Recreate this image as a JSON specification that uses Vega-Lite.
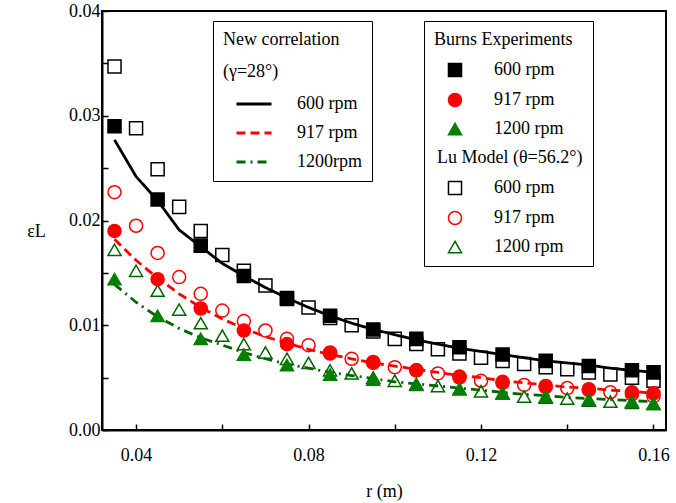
{
  "$schema": "https://vega.github.io/schema/vega-lite/v6.json",
  "width": 564,
  "height": 419,
  "autosize": {"type": "none"},
  "padding": {"left": 102, "top": 11, "right": 10, "bottom": 73},
  "background": "white",
  "config": {
    "font": "Liberation Serif",
    "view": {"stroke": "black", "strokeWidth": 2},
    "axis": {
      "domainColor": "black", "domainWidth": 2, "tickColor": "black", "tickWidth": 1.5,
      "labelColor": "black", "labelFontSize": 18, "labelFont": "Liberation Serif",
      "titleFont": "Liberation Serif", "titleFontSize": 18, "titleColor": "black",
      "titleFontWeight": "normal", "grid": false
    },
    "legend": {
      "titleFont": "Liberation Serif", "labelFont": "Liberation Serif",
      "titleFontSize": 18, "labelFontSize": 18, "titleFontWeight": "normal",
      "titleColor": "black", "labelColor": "black", "strokeColor": "black",
      "labelLimit": 300, "titleLimit": 300
    }
  },
  "datasets": {
    "corr": [
      {"r": 0.035, "e": 0.0277, "corr": "600 rpm"}, {"r": 0.04, "e": 0.0242, "corr": "600 rpm"},
      {"r": 0.045, "e": 0.0219, "corr": "600 rpm"}, {"r": 0.05, "e": 0.0191, "corr": "600 rpm"},
      {"r": 0.055, "e": 0.0175, "corr": "600 rpm"}, {"r": 0.06, "e": 0.0159, "corr": "600 rpm"},
      {"r": 0.065, "e": 0.0147, "corr": "600 rpm"}, {"r": 0.07, "e": 0.0136, "corr": "600 rpm"},
      {"r": 0.075, "e": 0.0126, "corr": "600 rpm"}, {"r": 0.08, "e": 0.0117, "corr": "600 rpm"},
      {"r": 0.085, "e": 0.0109, "corr": "600 rpm"}, {"r": 0.09, "e": 0.0102, "corr": "600 rpm"},
      {"r": 0.095, "e": 0.0096, "corr": "600 rpm"}, {"r": 0.1, "e": 0.0091, "corr": "600 rpm"},
      {"r": 0.105, "e": 0.0086, "corr": "600 rpm"}, {"r": 0.11, "e": 0.0082, "corr": "600 rpm"},
      {"r": 0.115, "e": 0.0078, "corr": "600 rpm"}, {"r": 0.12, "e": 0.0075, "corr": "600 rpm"},
      {"r": 0.125, "e": 0.0072, "corr": "600 rpm"}, {"r": 0.13, "e": 0.0069, "corr": "600 rpm"},
      {"r": 0.135, "e": 0.0066, "corr": "600 rpm"}, {"r": 0.14, "e": 0.0064, "corr": "600 rpm"},
      {"r": 0.145, "e": 0.0062, "corr": "600 rpm"}, {"r": 0.15, "e": 0.0059, "corr": "600 rpm"},
      {"r": 0.155, "e": 0.0057, "corr": "600 rpm"}, {"r": 0.16, "e": 0.0055, "corr": "600 rpm"},
      {"r": 0.035, "e": 0.0182, "corr": "917 rpm"}, {"r": 0.04, "e": 0.0162, "corr": "917 rpm"},
      {"r": 0.045, "e": 0.0145, "corr": "917 rpm"}, {"r": 0.05, "e": 0.013, "corr": "917 rpm"},
      {"r": 0.055, "e": 0.0117, "corr": "917 rpm"}, {"r": 0.06, "e": 0.0106, "corr": "917 rpm"},
      {"r": 0.065, "e": 0.0097, "corr": "917 rpm"}, {"r": 0.07, "e": 0.0089, "corr": "917 rpm"},
      {"r": 0.075, "e": 0.0083, "corr": "917 rpm"}, {"r": 0.08, "e": 0.0077, "corr": "917 rpm"},
      {"r": 0.085, "e": 0.0072, "corr": "917 rpm"}, {"r": 0.09, "e": 0.0068, "corr": "917 rpm"},
      {"r": 0.095, "e": 0.0064, "corr": "917 rpm"}, {"r": 0.1, "e": 0.0061, "corr": "917 rpm"},
      {"r": 0.105, "e": 0.0058, "corr": "917 rpm"}, {"r": 0.11, "e": 0.0055, "corr": "917 rpm"},
      {"r": 0.115, "e": 0.0052, "corr": "917 rpm"}, {"r": 0.12, "e": 0.005, "corr": "917 rpm"},
      {"r": 0.125, "e": 0.0047, "corr": "917 rpm"}, {"r": 0.13, "e": 0.0045, "corr": "917 rpm"},
      {"r": 0.135, "e": 0.0043, "corr": "917 rpm"}, {"r": 0.14, "e": 0.0041, "corr": "917 rpm"},
      {"r": 0.145, "e": 0.004, "corr": "917 rpm"}, {"r": 0.15, "e": 0.0038, "corr": "917 rpm"},
      {"r": 0.155, "e": 0.0037, "corr": "917 rpm"}, {"r": 0.16, "e": 0.0035, "corr": "917 rpm"},
      {"r": 0.035, "e": 0.0139, "corr": "1200rpm"}, {"r": 0.04, "e": 0.0122, "corr": "1200rpm"},
      {"r": 0.045, "e": 0.0108, "corr": "1200rpm"}, {"r": 0.05, "e": 0.0097, "corr": "1200rpm"},
      {"r": 0.055, "e": 0.0088, "corr": "1200rpm"}, {"r": 0.06, "e": 0.0081, "corr": "1200rpm"},
      {"r": 0.065, "e": 0.0074, "corr": "1200rpm"}, {"r": 0.07, "e": 0.0068, "corr": "1200rpm"},
      {"r": 0.075, "e": 0.0063, "corr": "1200rpm"}, {"r": 0.08, "e": 0.0059, "corr": "1200rpm"},
      {"r": 0.085, "e": 0.0055, "corr": "1200rpm"}, {"r": 0.09, "e": 0.0052, "corr": "1200rpm"},
      {"r": 0.095, "e": 0.0049, "corr": "1200rpm"}, {"r": 0.1, "e": 0.0046, "corr": "1200rpm"},
      {"r": 0.105, "e": 0.0044, "corr": "1200rpm"}, {"r": 0.11, "e": 0.0042, "corr": "1200rpm"},
      {"r": 0.115, "e": 0.004, "corr": "1200rpm"}, {"r": 0.12, "e": 0.0038, "corr": "1200rpm"},
      {"r": 0.125, "e": 0.0036, "corr": "1200rpm"}, {"r": 0.13, "e": 0.0034, "corr": "1200rpm"},
      {"r": 0.135, "e": 0.0033, "corr": "1200rpm"}, {"r": 0.14, "e": 0.0031, "corr": "1200rpm"},
      {"r": 0.145, "e": 0.003, "corr": "1200rpm"}, {"r": 0.15, "e": 0.0029, "corr": "1200rpm"},
      {"r": 0.155, "e": 0.0028, "corr": "1200rpm"}, {"r": 0.16, "e": 0.0027, "corr": "1200rpm"}
    ],
    "pts": [
      {"r": 0.035, "e": 0.0347, "series": "L600"}, {"r": 0.04, "e": 0.0288, "series": "L600"},
      {"r": 0.045, "e": 0.0249, "series": "L600"}, {"r": 0.05, "e": 0.0213, "series": "L600"},
      {"r": 0.055, "e": 0.019, "series": "L600"}, {"r": 0.06, "e": 0.0167, "series": "L600"},
      {"r": 0.065, "e": 0.0152, "series": "L600"}, {"r": 0.07, "e": 0.0138, "series": "L600"},
      {"r": 0.075, "e": 0.0126, "series": "L600"}, {"r": 0.08, "e": 0.0117, "series": "L600"},
      {"r": 0.085, "e": 0.0107, "series": "L600"}, {"r": 0.09, "e": 0.01, "series": "L600"},
      {"r": 0.095, "e": 0.0094, "series": "L600"}, {"r": 0.1, "e": 0.0087, "series": "L600"},
      {"r": 0.105, "e": 0.0082, "series": "L600"}, {"r": 0.11, "e": 0.0077, "series": "L600"},
      {"r": 0.115, "e": 0.0073, "series": "L600"}, {"r": 0.12, "e": 0.0069, "series": "L600"},
      {"r": 0.125, "e": 0.0066, "series": "L600"}, {"r": 0.13, "e": 0.0063, "series": "L600"},
      {"r": 0.135, "e": 0.006, "series": "L600"}, {"r": 0.14, "e": 0.0058, "series": "L600"},
      {"r": 0.145, "e": 0.0055, "series": "L600"}, {"r": 0.15, "e": 0.0053, "series": "L600"},
      {"r": 0.155, "e": 0.005, "series": "L600"}, {"r": 0.16, "e": 0.0047, "series": "L600"},
      {"r": 0.035, "e": 0.0227, "series": "L917"}, {"r": 0.04, "e": 0.0195, "series": "L917"},
      {"r": 0.045, "e": 0.0169, "series": "L917"}, {"r": 0.05, "e": 0.0146, "series": "L917"},
      {"r": 0.055, "e": 0.013, "series": "L917"}, {"r": 0.06, "e": 0.0114, "series": "L917"},
      {"r": 0.065, "e": 0.0104, "series": "L917"}, {"r": 0.07, "e": 0.0095, "series": "L917"},
      {"r": 0.075, "e": 0.0087, "series": "L917"}, {"r": 0.08, "e": 0.0081, "series": "L917"},
      {"r": 0.085, "e": 0.0074, "series": "L917"}, {"r": 0.09, "e": 0.0068, "series": "L917"},
      {"r": 0.095, "e": 0.0064, "series": "L917"}, {"r": 0.1, "e": 0.006, "series": "L917"},
      {"r": 0.105, "e": 0.0057, "series": "L917"}, {"r": 0.11, "e": 0.0054, "series": "L917"},
      {"r": 0.115, "e": 0.005, "series": "L917"}, {"r": 0.12, "e": 0.0047, "series": "L917"},
      {"r": 0.125, "e": 0.0045, "series": "L917"}, {"r": 0.13, "e": 0.0043, "series": "L917"},
      {"r": 0.135, "e": 0.0041, "series": "L917"}, {"r": 0.14, "e": 0.004, "series": "L917"},
      {"r": 0.145, "e": 0.0038, "series": "L917"}, {"r": 0.15, "e": 0.0036, "series": "L917"},
      {"r": 0.155, "e": 0.0034, "series": "L917"}, {"r": 0.16, "e": 0.0032, "series": "L917"},
      {"r": 0.035, "e": 0.0172, "series": "L1200"}, {"r": 0.04, "e": 0.0152, "series": "L1200"},
      {"r": 0.045, "e": 0.0133, "series": "L1200"}, {"r": 0.05, "e": 0.0115, "series": "L1200"},
      {"r": 0.055, "e": 0.0102, "series": "L1200"}, {"r": 0.06, "e": 0.009, "series": "L1200"},
      {"r": 0.065, "e": 0.0082, "series": "L1200"}, {"r": 0.07, "e": 0.0074, "series": "L1200"},
      {"r": 0.075, "e": 0.0068, "series": "L1200"}, {"r": 0.08, "e": 0.0064, "series": "L1200"},
      {"r": 0.085, "e": 0.0057, "series": "L1200"}, {"r": 0.09, "e": 0.0054, "series": "L1200"},
      {"r": 0.095, "e": 0.005, "series": "L1200"}, {"r": 0.1, "e": 0.0047, "series": "L1200"},
      {"r": 0.105, "e": 0.0044, "series": "L1200"}, {"r": 0.11, "e": 0.0042, "series": "L1200"},
      {"r": 0.115, "e": 0.0039, "series": "L1200"}, {"r": 0.12, "e": 0.0037, "series": "L1200"},
      {"r": 0.125, "e": 0.0035, "series": "L1200"}, {"r": 0.13, "e": 0.0032, "series": "L1200"},
      {"r": 0.135, "e": 0.0031, "series": "L1200"}, {"r": 0.14, "e": 0.003, "series": "L1200"},
      {"r": 0.145, "e": 0.0028, "series": "L1200"}, {"r": 0.15, "e": 0.0027, "series": "L1200"},
      {"r": 0.155, "e": 0.0026, "series": "L1200"}, {"r": 0.16, "e": 0.0025, "series": "L1200"},
      {"r": 0.035, "e": 0.029, "series": "B600"}, {"r": 0.045, "e": 0.022, "series": "B600"},
      {"r": 0.055, "e": 0.0176, "series": "B600"}, {"r": 0.065, "e": 0.0147, "series": "B600"},
      {"r": 0.075, "e": 0.0125, "series": "B600"}, {"r": 0.085, "e": 0.0109, "series": "B600"},
      {"r": 0.095, "e": 0.0096, "series": "B600"}, {"r": 0.105, "e": 0.0087, "series": "B600"},
      {"r": 0.115, "e": 0.0079, "series": "B600"}, {"r": 0.125, "e": 0.0072, "series": "B600"},
      {"r": 0.135, "e": 0.0066, "series": "B600"}, {"r": 0.145, "e": 0.0061, "series": "B600"},
      {"r": 0.155, "e": 0.0057, "series": "B600"}, {"r": 0.16, "e": 0.0055, "series": "B600"},
      {"r": 0.035, "e": 0.019, "series": "B917"}, {"r": 0.045, "e": 0.0144, "series": "B917"},
      {"r": 0.055, "e": 0.0116, "series": "B917"}, {"r": 0.065, "e": 0.0095, "series": "B917"},
      {"r": 0.075, "e": 0.0082, "series": "B917"}, {"r": 0.085, "e": 0.0073, "series": "B917"},
      {"r": 0.095, "e": 0.0065, "series": "B917"}, {"r": 0.105, "e": 0.0057, "series": "B917"},
      {"r": 0.115, "e": 0.0051, "series": "B917"}, {"r": 0.125, "e": 0.0046, "series": "B917"},
      {"r": 0.135, "e": 0.0042, "series": "B917"}, {"r": 0.145, "e": 0.0039, "series": "B917"},
      {"r": 0.155, "e": 0.0036, "series": "B917"}, {"r": 0.16, "e": 0.0035, "series": "B917"},
      {"r": 0.035, "e": 0.0144, "series": "B1200"}, {"r": 0.045, "e": 0.0109, "series": "B1200"},
      {"r": 0.055, "e": 0.0087, "series": "B1200"}, {"r": 0.065, "e": 0.0072, "series": "B1200"},
      {"r": 0.075, "e": 0.0062, "series": "B1200"}, {"r": 0.085, "e": 0.0053, "series": "B1200"},
      {"r": 0.095, "e": 0.0048, "series": "B1200"}, {"r": 0.105, "e": 0.0043, "series": "B1200"},
      {"r": 0.115, "e": 0.0039, "series": "B1200"}, {"r": 0.125, "e": 0.0035, "series": "B1200"},
      {"r": 0.135, "e": 0.0032, "series": "B1200"}, {"r": 0.145, "e": 0.0029, "series": "B1200"},
      {"r": 0.155, "e": 0.0027, "series": "B1200"}, {"r": 0.16, "e": 0.0025, "series": "B1200"}
    ]
  },
  "layer": [
    {
      "data": {"name": "corr"},
      "mark": {"type": "line", "strokeWidth": 2.8},
      "encoding": {
        "x": {
          "field": "r", "type": "quantitative",
          "scale": {"domain": [0.0321, 0.1629], "nice": false, "zero": false},
          "axis": {
            "values": [0.04, 0.06, 0.08, 0.1, 0.12, 0.14, 0.16],
            "format": ".2f",
            "labelExpr": "indexof(['0.04','0.08','0.12','0.16'], datum.label) >= 0 ? datum.label : ''",
            "title": "r (m)", "tickSize": -6, "labelPadding": 22, "titlePadding": 18,
            "encode": {"ticks": {"y2": {"value": {"expr": "indexof([0.04, 0.08, 0.12, 0.16], datum.value) >= 0 ? -8 : -5"}}}}
          }
        },
        "y": {
          "field": "e", "type": "quantitative",
          "scale": {"domain": [0, 0.04], "nice": false},
          "axis": {
            "values": [0, 0.005, 0.01, 0.015, 0.02, 0.025, 0.03, 0.035, 0.04],
            "format": ".3f",
            "labelExpr": "indexof(['0.000','0.010','0.020','0.030','0.040'], datum.label) >= 0 ? format(datum.value, '.2f') : ''",
            "title": "εL", "titleAngle": 0, "titleX": -66, "titleY": 220,
            "titleAlign": "center", "titleBaseline": "middle",
            "tickSize": -6, "labelPadding": 8,
            "encode": {"ticks": {"x2": {"value": {"expr": "indexof([0, 0.01, 0.02, 0.03, 0.04], datum.value) >= 0 ? 8 : 5"}}}}
          }
        },
        "color": {
          "field": "corr", "type": "nominal",
          "scale": {"domain": ["600 rpm", "917 rpm", "1200rpm"], "range": ["#000000", "#ff0000", "#006400"]},
          "legend": {
            "title": ["New correlation", "(γ=28°)"], "orient": "none", "legendX": 111, "legendY": 10,
            "symbolType": "stroke", "symbolSize": 1225, "symbolStrokeWidth": 3, "symbolOffset": 12,
            "padding": 10, "rowPadding": 1, "titlePadding": 4, "titleLineHeight": 32, "labelOffset": 24
          }
        },
        "strokeDash": {
          "field": "corr", "type": "nominal",
          "scale": {"domain": ["600 rpm", "917 rpm", "1200rpm"], "range": [[1, 0], [9, 5], [9, 5, 2, 5]]},
          "legend": {
            "title": ["New correlation", "(γ=28°)"], "orient": "none", "legendX": 111, "legendY": 10,
            "symbolType": "stroke", "symbolSize": 1225, "symbolStrokeWidth": 3, "symbolOffset": 12,
            "padding": 10, "rowPadding": 1, "titlePadding": 4, "titleLineHeight": 32, "labelOffset": 24
          }
        }
      }
    },
    {
      "data": {"name": "pts"},
      "mark": {"type": "point", "filled": true, "size": 170, "strokeWidth": 1.5, "opacity": 1},
      "encoding": {
        "x": {"field": "r", "type": "quantitative"},
        "y": {"field": "e", "type": "quantitative"},
        "shape": {
          "field": "series", "type": "nominal",
          "scale": {
            "domain": ["B600", "B917", "B1200", "LuHdr", "L600", "L917", "L1200"],
            "range": ["square", "circle", "triangle-up", "circle", "square", "circle", "triangle-up"]
          },
          "legend": {
            "title": "Burns Experiments", "orient": "none", "legendX": 322, "legendY": 10,
            "padding": 10, "rowPadding": 10, "symbolOffset": 12, "titlePadding": 12,
            "labelOffset": {"expr": "datum.value == 'LuHdr' ? -27 : 30"},
            "symbolSize": 170, "symbolStrokeWidth": 1.5,
            "labelExpr": "(datum.value == 'B600' || datum.value == 'L600') ? '600 rpm' : (datum.value == 'B917' || datum.value == 'L917') ? '917 rpm' : datum.value == 'LuHdr' ? 'Lu Model (θ=56.2°)' : '1200 rpm'"
          }
        },
        "fill": {
          "field": "series", "type": "nominal",
          "scale": {
            "domain": ["B600", "B917", "B1200", "LuHdr", "L600", "L917", "L1200"],
            "range": ["#000000", "#ff0000", "#008000", "transparent", "transparent", "transparent", "transparent"]
          },
          "legend": {
            "title": "Burns Experiments", "orient": "none", "legendX": 322, "legendY": 10,
            "padding": 10, "rowPadding": 10, "symbolOffset": 12, "titlePadding": 12,
            "labelOffset": {"expr": "datum.value == 'LuHdr' ? -27 : 30"},
            "symbolSize": 170, "symbolStrokeWidth": 1.5,
            "labelExpr": "(datum.value == 'B600' || datum.value == 'L600') ? '600 rpm' : (datum.value == 'B917' || datum.value == 'L917') ? '917 rpm' : datum.value == 'LuHdr' ? 'Lu Model (θ=56.2°)' : '1200 rpm'"
          }
        },
        "stroke": {
          "field": "series", "type": "nominal",
          "scale": {
            "domain": ["B600", "B917", "B1200", "LuHdr", "L600", "L917", "L1200"],
            "range": ["#000000", "#ff0000", "#008000", "transparent", "#000000", "#ff0000", "#006400"]
          },
          "legend": {
            "title": "Burns Experiments", "orient": "none", "legendX": 322, "legendY": 10,
            "padding": 10, "rowPadding": 10, "symbolOffset": 12, "titlePadding": 12,
            "labelOffset": {"expr": "datum.value == 'LuHdr' ? -27 : 30"},
            "symbolSize": 170, "symbolStrokeWidth": 1.5,
            "labelExpr": "(datum.value == 'B600' || datum.value == 'L600') ? '600 rpm' : (datum.value == 'B917' || datum.value == 'L917') ? '917 rpm' : datum.value == 'LuHdr' ? 'Lu Model (θ=56.2°)' : '1200 rpm'"
          }
        }
      }
    }
  ]
}
